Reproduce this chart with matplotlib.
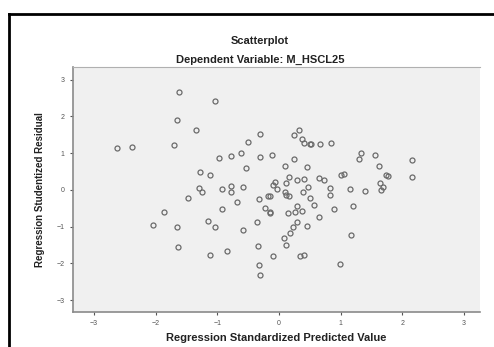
import numpy as np
import matplotlib
matplotlib.use('Agg')
import matplotlib.pyplot as plt
from matplotlib.lines import Line2D

plt.rcParams['font.family'] = ['Liberation Sans', 'DejaVu Sans']

# Standardized predicted value (x) and studentized residual (y)
pred = [-1.62, -1.65, -1.71, -2.63, -2.38, -1.86, -2.04, -1.65, -1.64, -1.04,
        -1.35, -0.30, -0.50, -0.98, -0.78, -0.61, -0.30, -0.54, -1.28, -1.12,
        -1.29, -1.25, -1.47, -0.93, -0.78, -0.78, -0.59, -0.33, -0.68, -0.93,
        -1.15, -1.03, -0.59, -0.36, -1.12, -0.85, -0.34, -0.32, -0.31, -0.12,
        0.32, 0.24, 0.38, 0.41, 0.50, 0.52, 0.66, 0.84, 0.24, 0.10,
        0.45, 0.16, 0.12, -0.06, -0.09, -0.03, 0.29, 0.41, 0.47, 0.65,
        0.73, 0.39, 0.09, 0.11, 0.17, 0.50, 0.82, 0.83, -0.18, -0.15,
        -0.22, -0.15, -0.14, 0.15, 0.26, 0.37, 0.30, 0.56, 0.65, 0.29,
        0.23, 0.18, 0.08, 0.12, 0.45, -0.10, 0.34, 0.41, 0.89, 1.33,
        1.30, 1.56, 1.63, 1.00, 1.06, 1.73, 1.77, 1.64, 1.68, 1.65,
        1.15, 1.39, 1.20, 1.16, 0.99, 2.16, 2.16]
resid = [2.67, 1.89, 1.23, 1.14, 1.17, -0.61, -0.96, -1.01, -1.56, 2.41,
         1.62, 1.52, 1.29, 0.86, 0.91, 0.99, 0.89, 0.59, 0.49, 0.40,
         0.05, -0.06, -0.21, 0.02, 0.11, -0.07, 0.08, -0.25, -0.32, -0.53,
         -0.85, -1.01, -1.08, -0.87, -1.76, -1.65, -1.53, -2.05, -2.32, 0.96,
         1.63, 1.49, 1.39, 1.27, 1.24, 1.24, 1.24, 1.28, 0.83, 0.65,
         0.63, 0.36, 0.20, 0.22, 0.14, 0.03, 0.27, 0.29, 0.08, 0.33,
         0.28, -0.05, -0.05, -0.15, -0.18, -0.21, 0.05, -0.14, -0.18, -0.18,
         -0.50, -0.61, -0.62, -0.63, -0.60, -0.58, -0.44, -0.42, -0.74, -0.87,
         -1.02, -1.18, -1.30, -1.50, -0.98, -1.81, -1.81, -1.77, -0.53, 1.01,
         0.85, 0.96, 0.65, 0.41, 0.44, 0.41, 0.39, 0.20, 0.09, 0.00,
         0.03, -0.03, -0.44, -1.24, -2.02, 0.80, 0.34]
ticks = [-3, -2, -1, 0, 1, 2, 3]

W, H = 494, 347
fig = plt.figure(figsize=(W / 100, H / 100), dpi=100)
ax = fig.add_axes([73 / W, 1 - 312 / H, (480 - 73) / W, (312 - 67) / H])
ax.set_facecolor('#f0f0f0')

ax.plot(pred, resid, 'o', ls='none', ms=3.6, mfc='none', mec='#6a6a6a', mew=0.9)

ax.set_xlim(-3.34, 3.26)
ax.set_ylim(-3.32, 3.34)
ax.set_xticks(ticks)
ax.set_yticks(ticks)
ax.tick_params(labelsize=5, colors='#555555', length=2.5, width=0.8)

for s in ['left', 'bottom']:
    ax.spines[s].set_color('#8a8a8a')
    ax.spines[s].set_linewidth(1.2)
ax.spines['top'].set_color('#b0b0b0')
ax.spines['top'].set_linewidth(0.8)
ax.spines['right'].set_visible(False)

ax.set_xlabel('Regression Standardized Predicted Value', fontsize=8,
              fontweight='bold', color='#222222', labelpad=4)
ax.set_ylabel('Regression Studentized Residual', fontsize=7,
              fontweight='bold', color='#222222', labelpad=8)

fig.text(260 / W, 1 - 41 / H, 'Scatterplot', ha='center', va='center',
         fontsize=8, fontweight='bold', color='#222222')
fig.text(260 / W, 1 - 60 / H, 'Dependent Variable: M_HSCL25', ha='center',
         va='center', fontsize=8, fontweight='bold', color='#222222')

# black frame cut off at right and bottom
fig.add_artist(Line2D([9 / W, 1], [1 - 13.5 / H] * 2, color='black', lw=2))
fig.add_artist(Line2D([9 / W] * 2, [0, 1 - 13.5 / H], color='black', lw=2))

fig.savefig('out.png', dpi=100)
